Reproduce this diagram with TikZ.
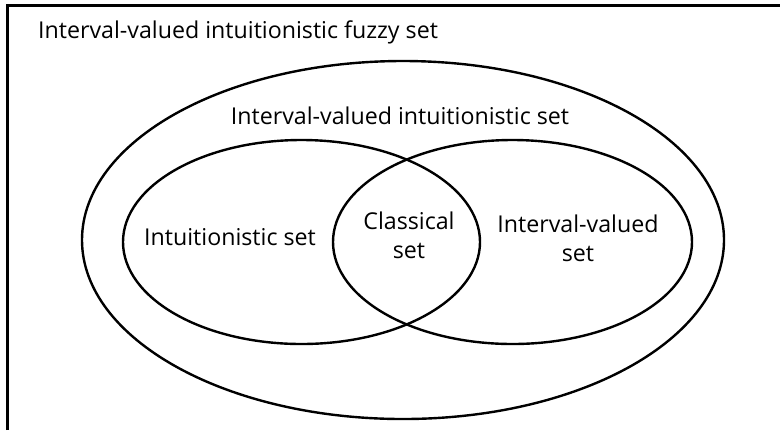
\documentclass[tikz,border=0pt]{standalone}
\usepackage{fontspec}
\setmainfont{Open Sans}
\usepackage{tikz}
\usetikzlibrary{shapes.geometric,positioning}

\begin{document}
\begin{tikzpicture}[x=0.5pt,y=-0.5pt,line width=1.2pt,
    setring/.style={draw,ellipse,inner sep=0pt,outer sep=0pt},
    setname/.style={font=\fontsize{11.6}{14.5}\selectfont,align=center,inner sep=0pt}]
      \useasboundingbox (0,0) rectangle (780,430);
      % frame, cut off at the right and bottom
      \draw[line width=1.5pt] (7,430) |- (780,5);
      \node[setname,anchor=base west] (fuzzy) at (37,38) {Interval-valued intuitionistic fuzzy set};
      % the rings
      \node[setring,minimum width=321pt,minimum height=179pt] (ivis) at (403,240) {};
      \node[setring,minimum width=178.5pt,minimum height=102pt] (is) at (301.5,242) {};
      \node[setring,minimum width=179.5pt,minimum height=102pt] (iv) at (512.5,242) {};
      % labels
      \node[setname,anchor=base] (ivisname) at (400,124) {Interval-valued intuitionistic set};
      \node[setname,anchor=base] (isname) at (230,245) {Intuitionistic set};
      \node[setname] (csname) at (409,235) {Classical\\set};
      \node[setname] (ivname) at (578,238) {Interval-valued\\set};
\end{tikzpicture}
\end{document}
